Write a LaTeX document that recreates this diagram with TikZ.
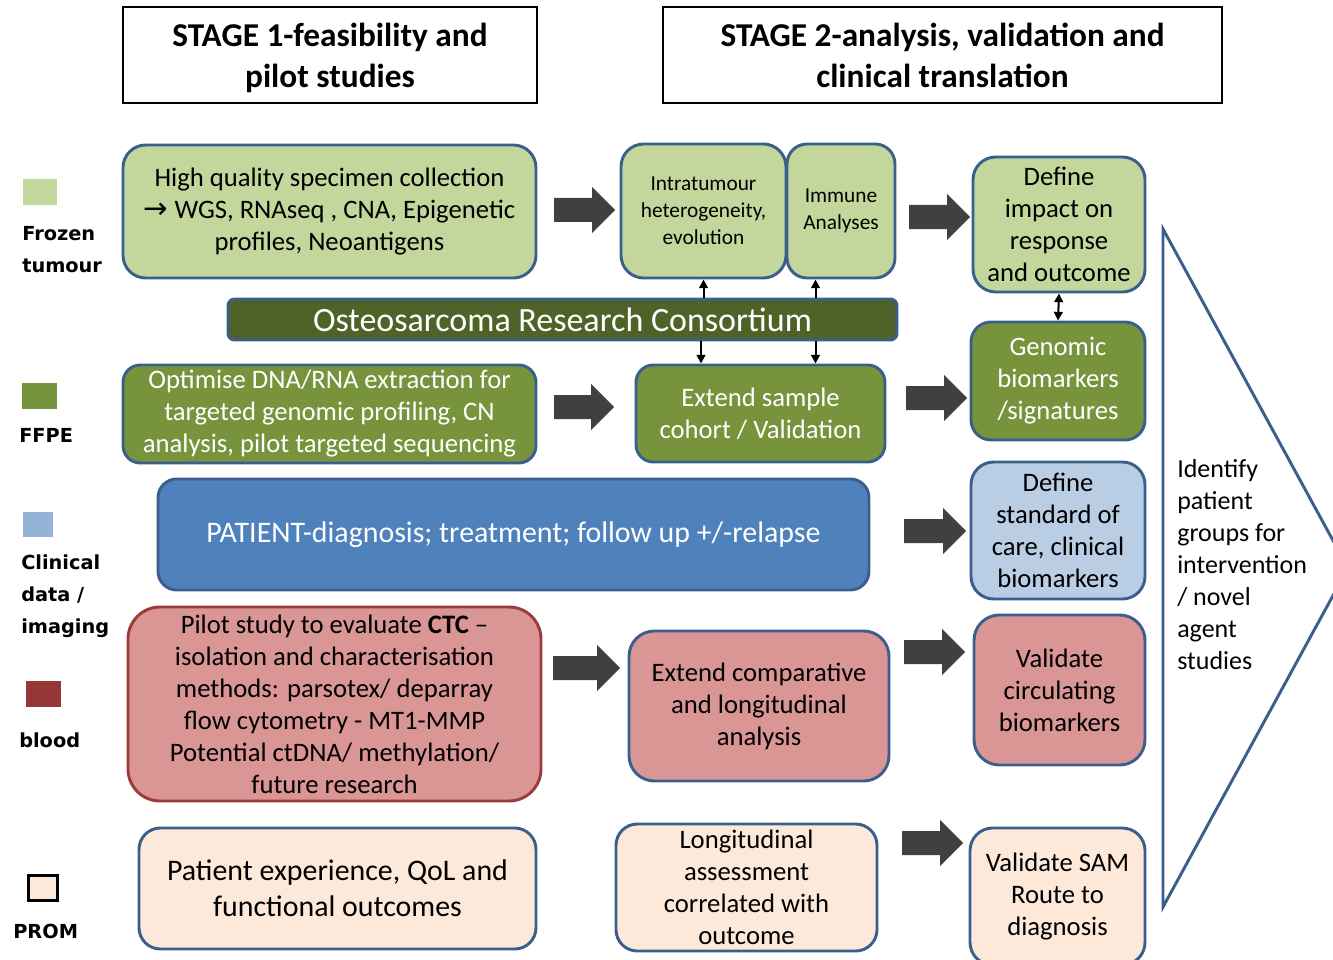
\documentclass[tikz,border=0pt]{standalone}
\usepackage{fontspec}
\setmainfont{Carlito}
\newfontfamily\legfont{DejaVu Sans}
\newfontfamily\symfont{DejaVu Sans}
\usetikzlibrary{arrows.meta}

\definecolor{lgreen}{HTML}{C3D69B}
\definecolor{mgreen}{HTML}{77933C}
\definecolor{dgreen}{HTML}{4F6228}
\definecolor{pblue}{HTML}{4F81BD}
\definecolor{lblue}{HTML}{B9CDE5}
\definecolor{pinkfill}{HTML}{D99694}
\definecolor{peach}{HTML}{FDE9D9}
\definecolor{edge}{HTML}{3A5F8C}
\definecolor{redline}{HTML}{9C3B38}
\definecolor{legblood}{HTML}{953735}
\definecolor{legclin}{HTML}{95B3D7}
\definecolor{arrgray}{HTML}{404040}

% fat grey arrow: left end x, axis y, length (all in px units)
\newcommand\blockarrow[3]{%
  \fill[arrgray] (#1,#2-12) -- (#1+#3-23,#2-12) -- (#1+#3-23,#2-23) -- (#1+#3,#2)
    -- (#1+#3-23,#2+23) -- (#1+#3-23,#2+12) -- (#1,#2+12) -- cycle;}

\begin{document}
\begin{tikzpicture}[x=0.75pt,y=-0.75pt,
  box/.style={draw=edge, line width=2.2pt, rounded corners=#1, inner sep=0pt,
    align=center, font=\fontsize{20}{24}\selectfont},
  box/.default=16pt,
  small/.style={font=\fontsize{16}{20.25}\selectfont},
  hdr/.style={draw=black, line width=2pt, inner sep=0pt, align=center,
    font=\bfseries\fontsize{25}{30.75}\selectfont},
  leg/.style={anchor=west, align=left, inner sep=0pt,
    font=\legfont\bfseries\fontsize{14.5}{24}\selectfont},
  swatch/.style={inner sep=0pt, draw=none},
  link/.style={line width=1.5pt, -{Triangle[length=6.5pt,width=6.5pt]}},
  duallink/.style={line width=1.5pt, {Triangle[length=6.5pt,width=6.5pt]}-{Triangle[length=6.5pt,width=6.5pt]}},
]
\useasboundingbox (0,0) rectangle (1333,959);
\clip (0,0) rectangle (1333,959);

% stage headers
\node[hdr, minimum width=310.5pt, minimum height=72pt] (st1) at (330,55)
  {STAGE 1-feasibility and\\\raisebox{0pt}[\height][0pt]{pilot studies}};
\node[hdr, minimum width=419.25pt, minimum height=72pt] (st2) at (942.5,55)
  {STAGE 2-analysis, validation and\\clinical translation};

% legend
\node[swatch, fill=lgreen, minimum width=25.5pt, minimum height=19.5pt] (sqfrozen) at (40,192) {};
\node[leg] (lfrozen) at (22,250) {Frozen\\tumour};
\node[swatch, fill=mgreen, minimum width=26.25pt, minimum height=19.5pt] (sqffpe) at (39.5,396) {};
\node[leg] (lffpe) at (19,435) {FFPE};
\node[swatch, fill=legclin, minimum width=22.5pt, minimum height=18.75pt] (sqclin) at (38,524.5) {};
\node[leg] (lclin) at (21,596) {Clinical\\data /\\imaging};
\node[swatch, fill=legblood, minimum width=26.25pt, minimum height=19.5pt] (sqblood) at (43.5,694) {};
\node[leg] (lblood) at (19,740) {blood};
\node[swatch, draw=black, line width=2.2pt, fill=peach, minimum width=22pt, minimum height=19pt] (sqprom) at (43,888) {};
\node[leg] (lprom) at (13,931) {PROM};

% frozen tumour row
\node[box=17pt, fill=lgreen, minimum width=309.75pt, minimum height=99.75pt] (hq) at (329.5,211.5)
  {High quality specimen collection\\{\symfont\fontsize{22}{24}\selectfont →} WGS, RNAseq , CNA, Epigenetic\\profiles, Neoantigens};
\node[box=17pt, small, fill=lgreen, minimum width=123.75pt, minimum height=100.5pt] (intra) at (703.5,211)
  {Intratumour\\heterogeneity,\\evolution};
\node[box=15pt, small, fill=lgreen, minimum width=81pt, minimum height=100.5pt] (immune) at (841,211)
  {Immune\\Analyses};
\node[box=17pt, fill=lgreen, minimum width=129pt, minimum height=101.25pt] (impact) at (1059,224.5)
  {Define\\impact on\\response\\and outcome};

% consortium bar
\node[box=5pt, fill=dgreen, text=white, font=\fontsize{25.5}{30}\selectfont,
  minimum width=501.75pt, minimum height=30.75pt] (bar) at (562.5,319.5)
  {Osteosarcoma Research Consortium};

% FFPE row
\node[box=13pt, fill=mgreen, text=white, minimum width=309.75pt, minimum height=73.5pt] (opt) at (329.5,414)
  {Optimise DNA/RNA extraction for\\targeted genomic profiling, CN\\analysis, pilot targeted sequencing};
\node[box=13pt, fill=mgreen, text=white, minimum width=186.75pt, minimum height=72.75pt] (cohort) at (760.5,413.5)
  {Extend sample\\cohort / Validation};
\node[box=15pt, fill=mgreen, text=white, minimum width=130.5pt, minimum height=88.5pt] (genomic) at (1058,381)
  {Genomic\\biomarkers\\/signatures};

% clinical row
\node[box=14pt, fill=pblue, text=white, font=\fontsize{22.4}{27}\selectfont,
  minimum width=533.25pt, minimum height=83.25pt] (patient) at (513.5,534.5)
  {PATIENT-diagnosis; treatment; follow up +/-relapse};
\node[box=17pt, fill=lblue, minimum width=130.5pt, minimum height=102.75pt] (stdcare) at (1058,530.5)
  {Define\\standard of\\care, clinical\\biomarkers};

% blood row
\node[box=24pt, fill=pinkfill, draw=redline, minimum width=309.75pt, minimum height=145.5pt] (pilot) at (334.5,704)
  {Pilot study to evaluate \textbf{CTC} –\\isolation and characterisation\\methods: parsotex/ deparray\\flow cytometry - MT1-MMP\\Potential ctDNA/ methylation/\\future research};
\node[box=19pt, fill=pinkfill, minimum width=195pt, minimum height=112.5pt] (compar) at (759,706)
  {Extend comparative\\and longitudinal\\analysis};
\node[box=19pt, fill=pinkfill, minimum width=128.25pt, minimum height=112.5pt] (circ) at (1059.5,690)
  {Validate\\circulating\\biomarkers};

% PROM row
\node[box=16pt, fill=peach, font=\fontsize{22.4}{27}\selectfont,
  minimum width=297.75pt, minimum height=90.75pt] (pexp) at (337.5,888.5)
  {Patient experience, QoL and\\functional outcomes};
\node[box=16pt, fill=peach, minimum width=195.75pt, minimum height=95.25pt] (longi) at (746.5,887.5)
  {Longitudinal\\assessment\\correlated with\\outcome};
\node[box=17pt, fill=peach, minimum width=131.25pt, minimum height=102.75pt] (sam) at (1057.5,896.5)
  {Validate SAM\\Route to\\diagnosis};

% fat arrows between stages
\blockarrow{554}{210}{61}
\blockarrow{909}{217}{61}
\blockarrow{554}{407}{60}
\blockarrow{906}{398}{61}
\blockarrow{904}{531}{62}
\blockarrow{553}{668}{67}
\blockarrow{904}{652}{61}
\blockarrow{902}{843}{61}

% thin links to and from the consortium bar
\coordinate (xr) at (815.5,0);
\coordinate (xl) at (701,0);
\draw[link] (bar.north -| intra.south) -- (intra.south);
\draw[link] (xr |- bar.north) -- (xr |- immune.south);
\draw[link] (xl |- bar.south) -- (xl |- cohort.north);
\draw[link] (xr |- bar.south) -- (xr |- cohort.north);
\draw[duallink] (impact.south) -- (genomic.north);

% outcome triangle
\draw[edge, line width=2.2pt, line join=miter] (1163,229) -- (1348,568) -- (1163,907) -- cycle;
\node[anchor=west, align=left, inner sep=0pt, font=\fontsize{19.5}{24}\selectfont] (ident) at (1177,565)
  {Identify\\patient\\groups for\\intervention\\/ novel\\agent\\studies};
\end{tikzpicture}
\end{document}
